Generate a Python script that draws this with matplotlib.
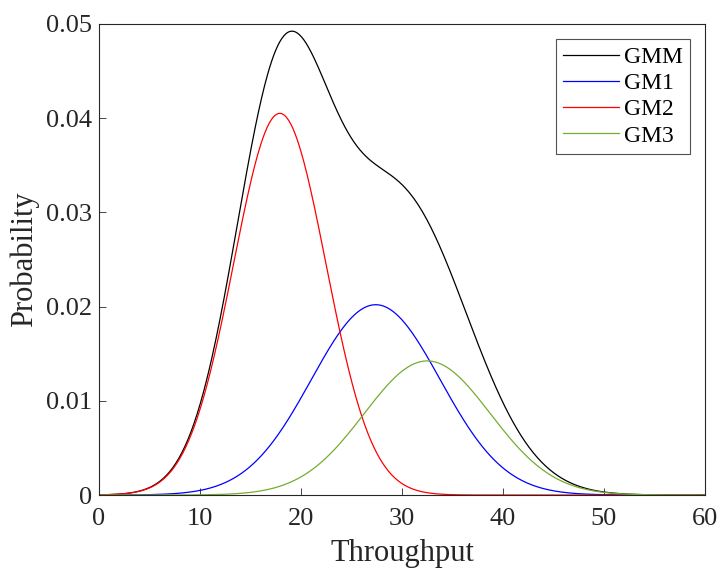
import numpy as np
import matplotlib.pyplot as plt

# Gaussian mixture components
names = ['GM1', 'GM2', 'GM3']
weights = [0.323, 0.464, 0.223]
means = [27.4, 17.9, 32.5]
sigmas = [6.38, 4.57, 6.25]
colors = ['#0000ff', '#ff0000', '#77ac30']

xticks = [0, 10, 20, 30, 40, 50, 60]
yticks = [0, 0.01, 0.02, 0.03, 0.04, 0.05]

plt.rcParams['font.family'] = ['Liberation Serif', 'DejaVu Serif']

x = np.linspace(0, 60, 601)
comps = [w / (s * np.sqrt(2 * np.pi)) * np.exp(-(x - m) ** 2 / (2 * s ** 2))
         for w, m, s in zip(weights, means, sigmas)]
gmm = np.sum(comps, axis=0)

fig = plt.figure(figsize=(7.21, 5.69), dpi=100)
ax = fig.add_axes([0.1373, 0.130, 0.8405, 0.828])

ax.plot(x, gmm, color='black', lw=0.9, label='GMM')
for c, name, col in zip(comps, names, colors):
    ax.plot(x, c, color=col, lw=0.9, label=name)

ax.set_xlim(0, 60)
ax.set_ylim(0, 0.05)
ax.set_xticks(xticks)
ax.set_yticks(yticks)
ax.set_yticklabels(['0', '0.01', '0.02', '0.03', '0.04', '0.05'])
ax.tick_params(direction='in', labelsize=19, length=5, width=0.6,
               top=False, right=False, color='#262626', labelcolor='#262626')
ax.tick_params(axis='x', pad=9)
ax.tick_params(axis='y', pad=5)
for sp in ax.spines.values():
    sp.set_linewidth(0.8)
    sp.set_color('#262626')

ax.set_xlabel('Throughput', fontsize=22, labelpad=7, color='#262626')
ax.set_ylabel('Probability', fontsize=22, labelpad=5, color='#262626')

leg = ax.legend(loc='upper right', fontsize=17, frameon=True, fancybox=False,
                edgecolor='#262626', handlelength=2.35, borderpad=0.3,
                labelspacing=0.2, handletextpad=0.2, borderaxespad=0.65)
leg.get_frame().set_linewidth(0.8)

fig.savefig('out.png', dpi=100)
